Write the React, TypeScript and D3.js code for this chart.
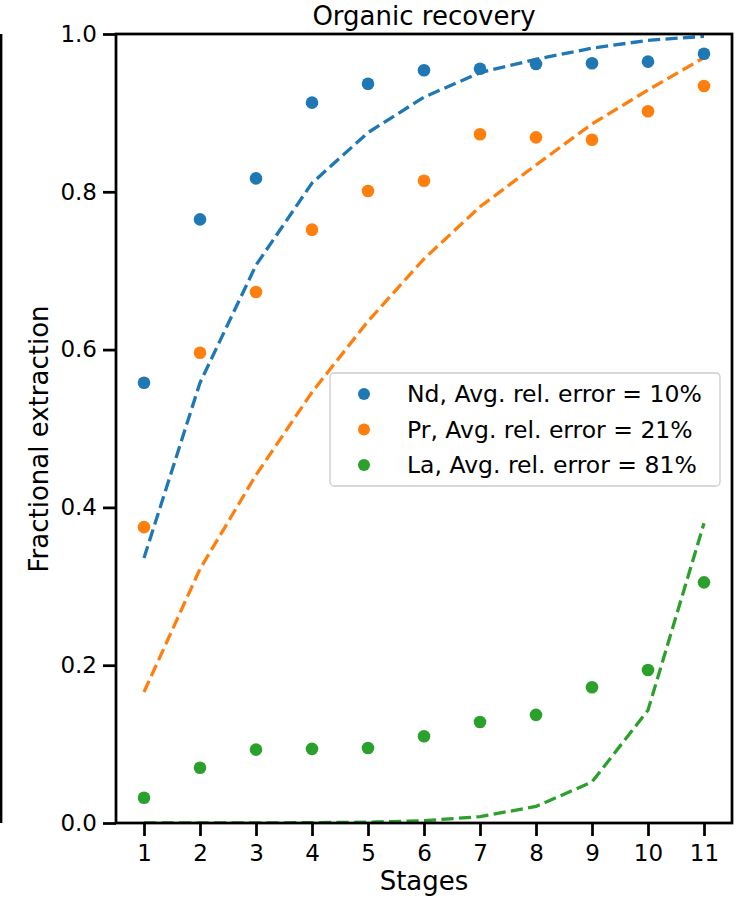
import { useEffect, useRef } from 'react'
import * as d3 from 'd3'

const stages = [1, 2, 3, 4, 5, 6, 7, 8, 9, 10, 11]

const ndPoints = [0.558, 0.765, 0.817, 0.913, 0.937, 0.954, 0.956, 0.962, 0.963, 0.965, 0.975]
const ndModel = [0.336, 0.558, 0.707, 0.811, 0.875, 0.92, 0.951, 0.968, 0.982, 0.992, 0.997]

const prPoints = [0.375, 0.596, 0.673, 0.752, 0.801, 0.814, 0.873, 0.869, 0.866, 0.902, 0.934]
const prModel = [0.166, 0.322, 0.441, 0.546, 0.636, 0.715, 0.781, 0.834, 0.886, 0.929, 0.97]

const laPoints = [0.032, 0.07, 0.093, 0.094, 0.095, 0.11, 0.128, 0.137, 0.172, 0.194, 0.305]
const laModel = [0, 0, 0, 0.0005, 0.001, 0.003, 0.008, 0.021, 0.052, 0.143, 0.38]

const yTicks = [0, 0.2, 0.4, 0.6, 0.8, 1.0]

const seriesList = [
  { name: 'Nd, Avg. rel. error = 10%', points: ndPoints, model: ndModel, color: '#1f77b4' },
  { name: 'Pr, Avg. rel. error = 21%', points: prPoints, model: prModel, color: '#ff7f0e' },
  { name: 'La, Avg. rel. error = 81%', points: laPoints, model: laModel, color: '#2ca02c' },
]

export default function App() {
  const svgRef = useRef<SVGSVGElement>(null)

  useEffect(() => {
    if (!svgRef.current) return
    const svg = d3.select(svgRef.current)
    svg.selectAll('*').remove()

    const left = 116
    const right = 732
    const top = 34
    const bottom = 823
    const font = 'DejaVu Sans, sans-serif'

    const x = d3.scaleLinear().domain([0.5, 11.5]).range([left, right])
    const y = d3.scaleLinear().domain([0, 1]).range([bottom, top])

    // edge of the neighbouring subplot
    svg.append('line')
      .attr('x1', 1).attr('x2', 1)
      .attr('y1', top).attr('y2', bottom)
      .attr('stroke', '#000').attr('stroke-width', 2.75)

    const plot = svg.append('g')
    svg.append('clipPath').attr('id', 'clip')
      .append('rect')
      .attr('x', left).attr('y', top)
      .attr('width', right - left).attr('height', bottom - top)

    const line = d3.line<number>()
      .x((_, i) => x(stages[i]))
      .y(d => y(d))

    seriesList.forEach(s => {
      plot.append('path')
        .datum(s.model)
        .attr('fill', 'none')
        .attr('stroke', s.color)
        .attr('stroke-width', 3.3)
        .attr('stroke-dasharray', '12.2,5.3')
        .attr('clip-path', 'url(#clip)')
        .attr('d', line)
    })

    seriesList.forEach(s => {
      plot.selectAll(null)
        .data(s.points)
        .enter()
        .append('circle')
        .attr('cx', (_, i) => x(stages[i]))
        .attr('cy', d => y(d))
        .attr('r', 6.3)
        .attr('fill', s.color)
    })

    // axes
    const xAxis = svg.append('g')
      .attr('transform', `translate(0,${bottom})`)
      .call(d3.axisBottom(x).tickValues(stages).tickSize(13).tickPadding(9).tickFormat(d3.format('d')))
    const yAxis = svg.append('g')
      .attr('transform', `translate(${left},0)`)
      .call(d3.axisLeft(y).tickValues(yTicks).tickSize(13).tickPadding(6).tickFormat(d3.format('.1f')))

    ;[xAxis, yAxis].forEach(ax => {
      ax.select('.domain').remove()
      ax.selectAll('line').attr('stroke', '#000').attr('stroke-width', 2.75)
      ax.selectAll('text')
        .style('font-family', font)
        .style('font-size', '23px')
        .attr('fill', '#000')
    })

    svg.append('rect')
      .attr('x', left).attr('y', top)
      .attr('width', right - left).attr('height', bottom - top)
      .attr('fill', 'none')
      .attr('stroke', '#000')
      .attr('stroke-width', 2.75)

    svg.append('text')
      .attr('x', (left + right) / 2)
      .attr('y', 25)
      .attr('text-anchor', 'middle')
      .style('font-family', font)
      .style('font-size', '26px')
      .text('Organic recovery')

    svg.append('text')
      .attr('x', (left + right) / 2)
      .attr('y', 890)
      .attr('text-anchor', 'middle')
      .style('font-family', font)
      .style('font-size', '26px')
      .text('Stages')

    svg.append('text')
      .attr('transform', `translate(48,439) rotate(-90)`)
      .attr('text-anchor', 'middle')
      .style('font-family', font)
      .style('font-size', '26px')
      .text('Fractional extraction')

    // legend
    const legend = svg.append('g')
    legend.append('rect')
      .attr('x', 330).attr('y', 373)
      .attr('width', 390).attr('height', 113)
      .attr('rx', 4)
      .attr('fill', 'rgba(255,255,255,0.8)')
      .attr('stroke', '#cccccc')
      .attr('stroke-width', 1.3)

    seriesList.forEach((s, i) => {
      const cy = 394 + i * 35.5
      legend.append('circle')
        .attr('cx', 364).attr('cy', cy)
        .attr('r', 6)
        .attr('fill', s.color)
      legend.append('text')
        .attr('x', 407).attr('y', cy)
        .attr('dy', '0.36em')
        .style('font-family', font)
        .style('font-size', '23.5px')
        .text(s.name)
    })
  }, [])

  return (
    <svg
      ref={svgRef}
      width={736}
      height={901}
      style={{ position: 'absolute', left: 0, top: 0, background: '#fff' }}
    />
  )
}
